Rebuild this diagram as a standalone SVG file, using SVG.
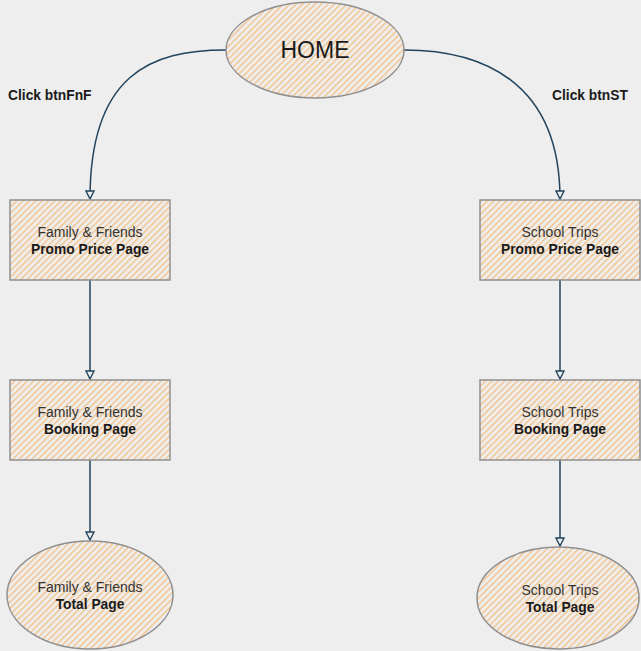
<svg xmlns="http://www.w3.org/2000/svg" width="641" height="651" viewBox="0 0 641 651">
<defs>
<pattern id="hatch" patternUnits="userSpaceOnUse" width="4.5" height="10" patternTransform="rotate(45)">
<rect x="0" y="0" width="1.4" height="10" fill="#F5C28A"/>
</pattern>
<marker id="arr" viewBox="0 0 10 10" refX="9" refY="5" markerWidth="10" markerHeight="10" markerUnits="userSpaceOnUse" orient="auto">
<path d="M1,1 L9,5 L1,9 Z" fill="#EEEEEE" stroke="#23445D" stroke-width="1.4"/>
</marker>
<style>
.shape{fill:url(#hatch);stroke:#909090;stroke-width:1.5}
.edge{fill:none;stroke:#23445D;stroke-width:1.5;marker-end:url(#arr)}
text{font-family:"Liberation Sans",Arial,sans-serif;text-anchor:middle}
.n{font-size:14px;fill:#333333}
.b{font-size:13.8px;font-weight:bold;fill:#1A1A1A}
.lbl{font-size:13.8px;font-weight:bold;fill:#1A1A1A;text-anchor:start}
</style>
</defs>
<rect x="0" y="0" width="641" height="651" fill="#EEEEEE"/>
<g id="connectors">
<path class="edge" d="M226,50 C150,50 90,75 90,199"/>
<path class="edge" d="M404,50 C480,50 560,80 560,199"/>
<path class="edge" d="M90,280 L90,379"/>
<path class="edge" d="M560,280 L560,379"/>
<path class="edge" d="M90,460 L90,540"/>
<path class="edge" d="M560,460 L560,546"/>
<text class="lbl" x="8" y="100">Click btnFnF</text>
<text class="lbl" x="552" y="100">Click btnST</text>
</g>
<g id="home">
<ellipse class="shape" cx="315" cy="50" rx="89" ry="48"/>
<text x="315" y="58" style="font-size:23px;fill:#1A1A1A">HOME</text>
</g>
<g id="fnf-promo">
<rect class="shape" x="10" y="200" width="160" height="80"/>
<text class="n" x="90" y="237">Family &amp; Friends</text>
<text class="b" x="90" y="254">Promo Price Page</text>
</g>
<g id="st-promo">
<rect class="shape" x="480" y="200" width="160" height="80"/>
<text class="n" x="560" y="237">School Trips</text>
<text class="b" x="560" y="254">Promo Price Page</text>
</g>
<g id="fnf-booking">
<rect class="shape" x="10" y="380" width="160" height="80"/>
<text class="n" x="90" y="417">Family &amp; Friends</text>
<text class="b" x="90" y="434">Booking Page</text>
</g>
<g id="st-booking">
<rect class="shape" x="480" y="380" width="160" height="80"/>
<text class="n" x="560" y="417">School Trips</text>
<text class="b" x="560" y="434">Booking Page</text>
</g>
<g id="fnf-total">
<ellipse class="shape" cx="90" cy="595" rx="83" ry="54"/>
<text class="n" x="90" y="592">Family &amp; Friends</text>
<text class="b" x="90" y="609">Total Page</text>
</g>
<g id="st-total">
<ellipse class="shape" cx="558" cy="598" rx="81" ry="51"/>
<text class="n" x="560" y="595">School Trips</text>
<text class="b" x="560" y="612">Total Page</text>
</g>
</svg>
